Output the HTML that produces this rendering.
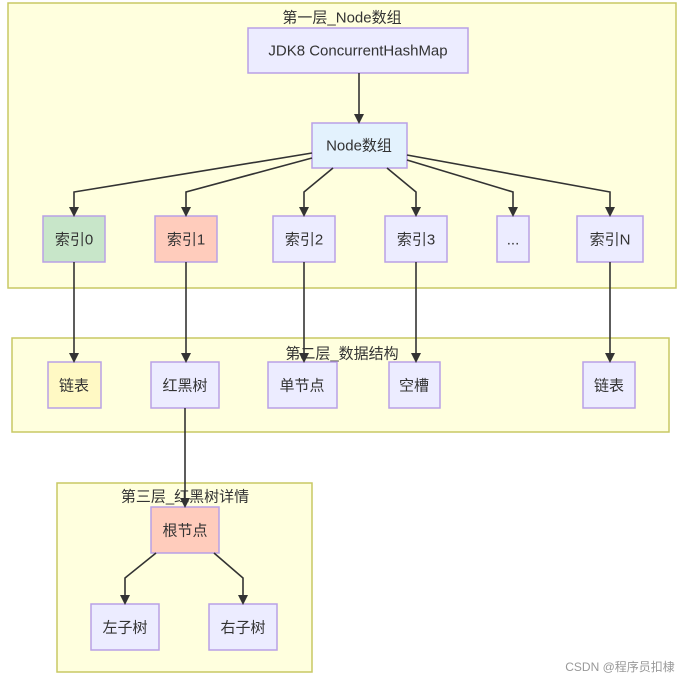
<!DOCTYPE html>
<html><head><meta charset="utf-8"><style>
html,body{margin:0;padding:0;background:#fff;width:682px;height:681px;overflow:hidden}
text{font-family:"Liberation Sans","Noto Sans CJK SC",sans-serif;font-size:15px;fill:#333;dominant-baseline:central;text-anchor:middle}
.c{fill:#ffffde;stroke:#c8c864;stroke-width:1.5}
.n{fill:#ececff;stroke:#b9a0e6;stroke-width:1.5}
.e{fill:none;stroke:#333;stroke-width:1.6}
</style></head><body>
<svg width="682" height="681" viewBox="0 0 682 681" xmlns="http://www.w3.org/2000/svg">
<defs><marker id="a" markerWidth="10" markerHeight="10" refX="8" refY="5" orient="auto" markerUnits="userSpaceOnUse"><path d="M0,0 L10,5 L0,10 z" fill="#333"/></marker></defs>
<rect class="c" x="8" y="3" width="668" height="285"/>
<rect class="c" x="12" y="338" width="657" height="94"/>
<rect class="c" x="57" y="483" width="255" height="189"/>
<text x="342" y="18">第一层_Node数组</text>
<text x="342" y="354">第二层_数据结构</text>
<text x="185" y="497">第三层_红黑树详情</text>

<rect class="n" x="248" y="28" width="220" height="45"/><text x="358" y="51">JDK8 ConcurrentHashMap</text>
<rect class="n" x="312" y="123" width="95" height="45" style="fill:#e3f2fd"/><text x="359" y="146">Node数组</text>

<rect class="n" x="43" y="216" width="62" height="46" style="fill:#c8e6c9"/><text x="74" y="240">索引0</text>
<rect class="n" x="155" y="216" width="62" height="46" style="fill:#ffccbc"/><text x="186" y="240">索引1</text>
<rect class="n" x="273" y="216" width="62" height="46"/><text x="304" y="240">索引2</text>
<rect class="n" x="385" y="216" width="62" height="46"/><text x="416" y="240">索引3</text>
<rect class="n" x="497" y="216" width="32" height="46"/><text x="513" y="240">...</text>
<rect class="n" x="577" y="216" width="66" height="46"/><text x="610" y="240">索引N</text>

<rect class="n" x="48" y="362" width="53" height="46" style="fill:#fff9c4"/><text x="74" y="386">链表</text>
<rect class="n" x="151" y="362" width="68" height="46"/><text x="185" y="386">红黑树</text>
<rect class="n" x="268" y="362" width="69" height="46"/><text x="302" y="386">单节点</text>
<rect class="n" x="389" y="362" width="51" height="46"/><text x="414" y="386">空槽</text>
<rect class="n" x="583" y="362" width="52" height="46"/><text x="609" y="386">链表</text>

<rect class="n" x="151" y="507" width="68" height="46" style="fill:#ffccbc"/><text x="185" y="531">根节点</text>
<rect class="n" x="91" y="604" width="68" height="46"/><text x="125" y="628">左子树</text>
<rect class="n" x="209" y="604" width="68" height="46"/><text x="243" y="628">右子树</text>

<path class="e" marker-end="url(#a)" d="M359,73 L359,122"/>
<path class="e" marker-end="url(#a)" d="M312,153 L74,192 L74,215"/>
<path class="e" marker-end="url(#a)" d="M312,158 L186,192 L186,215"/>
<path class="e" marker-end="url(#a)" d="M333,168 L304,192 L304,215"/>
<path class="e" marker-end="url(#a)" d="M387,168 L416,192 L416,215"/>
<path class="e" marker-end="url(#a)" d="M407,160 L513,192 L513,215"/>
<path class="e" marker-end="url(#a)" d="M407,155 L610,192 L610,215"/>

<path class="e" marker-end="url(#a)" d="M74,262 L74,361"/>
<path class="e" marker-end="url(#a)" d="M186,262 L186,361"/>
<path class="e" marker-end="url(#a)" d="M304,262 L304,361"/>
<path class="e" marker-end="url(#a)" d="M416,262 L416,361"/>
<path class="e" marker-end="url(#a)" d="M610,262 L610,361"/>
<path class="e" marker-end="url(#a)" d="M185,408 L185,506"/>
<path class="e" marker-end="url(#a)" d="M156,553 L125,578 L125,603"/>
<path class="e" marker-end="url(#a)" d="M214,553 L243,578 L243,603"/>

<text x="620" y="667" style="font-size:12px;fill:#999">CSDN @程序员扣棣</text>
</svg>
</body></html>
